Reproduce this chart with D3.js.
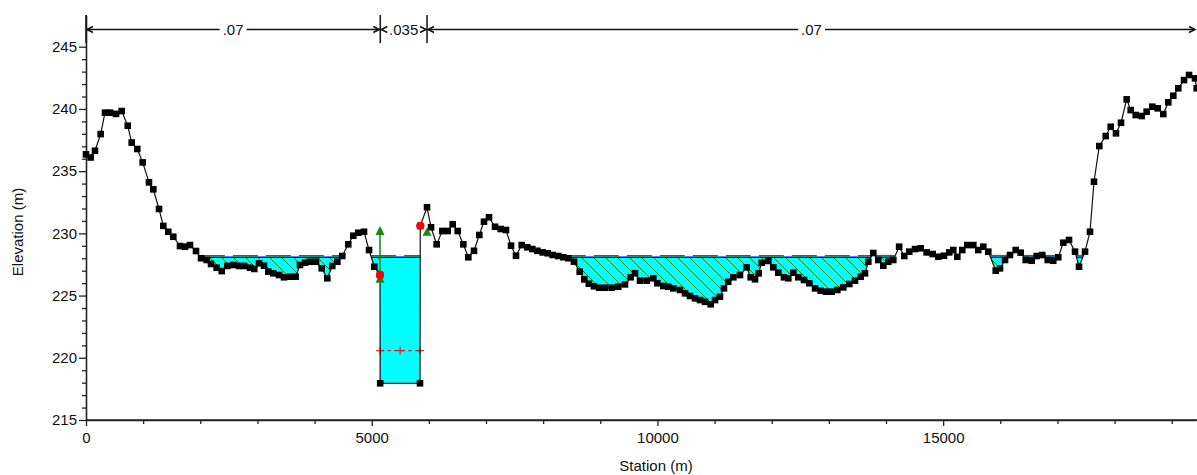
<!DOCTYPE html>
<html><head><meta charset="utf-8">
<script src="https://cdn.jsdelivr.net/npm/d3@7"></script>
<style>
body{margin:0;background:#fff}
svg{display:block}
text{font-family:Arial,"Liberation Sans",sans-serif;fill:#111}
</style>
</head><body>
<svg id="c" width="1197" height="475"></svg>
<script>
// ---------- data ----------
const stations = [0,82,157,257,332,420,525,624,730,800,898,992,1102,1178,1278,1353,1440,1528,1645,1733,1820,1925,2013,2112,2188,2287,2375,2473,2578,2678,2770,2870,2945,3028,3115,3190,3278,3378,3465,3570,3670,3745,3833,3932,4025,4125,4223,4310,4398,4485,4590,4678,4765,4865,4953,5045,5145,5148,5845,5850,5968,6038,6137,6235,6329,6417,6505,6603,6690,6790,6883,6965,7053,7158,7257,7350,7438,7525,7625,7723,7810,7898,7992,8080,8167,8265,8353,8440,8540,8640,8720,8800,8890,8980,9083,9200,9316,9433,9532,9608,9695,9812,9928,9998,10103,10190,10278,10395,10483,10570,10658,10745,10833,10932,11008,11095,11165,11240,11328,11445,11562,11632,11708,11772,11825,11940,12028,12115,12215,12290,12378,12465,12565,12658,12758,12857,12950,13050,13148,13253,13358,13458,13557,13633,13690,13778,13865,13953,14040,14128,14230,14320,14408,14508,14607,14712,14817,14915,15015,15108,15178,15248,15335,15423,15528,15615,15703,15790,15920,15995,16083,16170,16270,16357,16445,16550,16637,16735,16830,16927,17015,17103,17203,17308,17378,17483,17570,17640,17733,17845,17932,18025,18113,18212,18282,18370,18475,18562,18660,18755,18853,18940,19028,19115,19215,19303,19408,19437];
const elevations = [236.35,236.1,236.64,237.98,239.7,239.7,239.6,239.83,238.65,237.3,236.78,235.7,234.1,233.54,231.96,230.6,230.13,229.73,228.98,228.93,229.06,228.58,228.0,227.86,227.54,227.24,226.97,227.38,227.46,227.38,227.38,227.24,227.14,227.59,227.4,226.92,226.79,226.65,226.47,226.52,226.52,227.46,227.64,227.72,227.72,227.19,226.39,227.38,227.72,228.18,229.12,229.81,230.05,230.13,228.66,227.32,226.65,217.95,217.95,230.6,232.1,230.49,229.12,230.19,230.19,230.73,230.19,229.12,228.08,228.6,229.87,230.94,231.29,230.53,230.35,230.27,229.01,228.2,229.06,228.88,228.74,228.6,228.47,228.4,228.26,228.18,228.08,228.0,227.72,226.92,226.3,225.95,225.75,225.63,225.63,225.63,225.71,225.9,226.47,226.79,226.2,226.2,226.39,225.99,225.77,225.71,225.58,225.45,225.18,224.97,224.78,224.64,224.5,224.3,224.64,224.91,225.58,226.11,226.47,226.65,227.27,226.47,226.31,226.79,227.64,227.78,227.27,226.84,226.47,226.39,226.84,226.47,226.25,225.99,225.58,225.39,225.31,225.31,225.45,225.66,225.93,226.2,226.52,226.79,227.72,228.42,227.86,227.4,227.72,227.86,228.93,228.18,228.53,228.74,228.8,228.47,228.34,228.12,228.2,228.47,228.66,228.12,228.66,229.06,229.06,228.66,228.93,228.53,227.0,227.19,227.86,228.26,228.66,228.45,227.86,227.8,228.18,228.26,227.86,227.8,228.08,229.25,229.47,228.53,227.32,228.53,230.13,234.15,237.02,237.82,238.57,238.04,238.89,240.77,239.91,239.51,239.43,239.78,240.18,240.05,239.59,240.53,241.06,241.66,242.32,242.73,242.46,241.66];
const wsElev = 228.13;
const egElev = 228.17;
const critElev = 220.57;
const bankStations = [5145, 5850];
const bankElevs = [226.65, 230.6];
const ineffStations = [5145, 5968];
const ineffElevs = [230.6, 230.5];
const nBreaks = [0, 5150, 5968, 19425];
const nValues = [".07", ".035", ".07"];
const xTicks = [0, 5000, 10000, 15000];
const xMinorTicks = d3.range(0, 19001, 1000);
const yTicks = [215, 220, 225, 230, 235, 240, 245];
const yMinorTicks = d3.range(215, 246, 1);
const xTitle = "Station (m)";
const yTitle = "Elevation (m)";

// ---------- scales ----------
const svg = d3.select("#c");
const x = d3.scaleLinear().domain([0, 19425]).range([86, 1196]);
const y = d3.scaleLinear().domain([215, 247.55]).range([420, 15]);

const ground = stations.map((s, i) => ({s, e: elevations[i]}));

// wetted pools
const pools = [];
let cur = null;
for (let i = 0; i < ground.length; i++) {
  const p = ground[i];
  if (p.e < wsElev) {
    if (!cur) {
      if (i > 0) {
        const q = ground[i-1];
        const t = (wsElev - q.e) / (p.e - q.e);
        cur = [{s: q.s + t*(p.s - q.s), e: wsElev}];
      } else cur = [{s: p.s, e: wsElev}];
    }
    cur.push(p);
  } else if (cur) {
    const q = ground[i-1];
    const t = (wsElev - q.e) / (p.e - q.e);
    cur.push({s: q.s + t*(p.s - q.s), e: wsElev});
    pools.push(cur); cur = null;
  }
}

const defs = svg.append("defs");
const pat = defs.append("pattern").attr("id","hatch").attr("patternUnits","userSpaceOnUse")
  .attr("width",12).attr("height",12);
pat.append("rect").attr("width",12).attr("height",12).attr("fill","#00ffff");
pat.append("path").attr("d","M-1,-1L13,13M-1,11L1,13M11,-1L13,1")
  .attr("stroke","#118a11").attr("stroke-width",1).attr("fill","none");
defs.append("clipPath").attr("id","chan").append("rect")
  .attr("x", x(bankStations[0])).attr("y",0)
  .attr("width", x(bankStations[1]) - x(bankStations[0])).attr("height",475);

const line = d3.line().x(d => x(d.s)).y(d => y(d.e));

// water fills
svg.append("g").selectAll("path").data(pools).join("path")
  .attr("d", d => line(d) + "Z").attr("fill","url(#hatch)");
svg.append("g").attr("clip-path","url(#chan)").selectAll("path").data(pools).join("path")
  .attr("d", d => line(d) + "Z").attr("fill","#00ffff");

// WS and EG lines
svg.append("g").selectAll("line").data(pools).join("line")
  .attr("x1", d => x(d[0].s)).attr("x2", d => x(d[d.length-1].s))
  .attr("y1", y(wsElev)+0.5).attr("y2", y(wsElev)+0.5)
  .attr("stroke","#0000ff").attr("stroke-width",1.5);
svg.append("g").selectAll("line").data(pools).join("line")
  .attr("x1", d => x(d[0].s)).attr("x2", d => x(d[d.length-1].s))
  .attr("y1", y(egElev)-0.5).attr("y2", y(egElev)-0.5)
  .attr("stroke","#0a8a0a").attr("stroke-width",1.5).attr("stroke-dasharray","25,8");

// critical depth
const critX = [5148, 5497, 5845];
svg.append("line").attr("x1", x(critX[0])).attr("x2", x(critX[2]))
  .attr("y1", y(critElev)).attr("y2", y(critElev))
  .attr("stroke","#ff0000").attr("stroke-width",1).attr("stroke-dasharray","4,3");
svg.append("g").selectAll("path").data(critX).join("path")
  .attr("d", d => `M${x(d)-4},${y(critElev)}h8M${x(d)},${y(critElev)-4}v8`)
  .attr("stroke","#ff0000").attr("stroke-width",1);

// axes
const yAxis = svg.append("g").attr("transform","translate(86,0)")
  .call(d3.axisLeft(y).tickValues(yTicks).tickSize(7).tickSizeOuter(0).tickPadding(2));
svg.append("g").attr("transform","translate(86,0)")
  .call(d3.axisLeft(y).tickValues(yMinorTicks.filter(v => v % 5 !== 0)).tickSize(4).tickSizeOuter(0).tickFormat(""))
  .select(".domain").remove();
const xAxis = svg.append("g").attr("transform","translate(0,420)")
  .call(d3.axisBottom(x).tickValues(xTicks).tickSize(6).tickSizeOuter(0).tickPadding(6).tickFormat(d3.format("d")));
svg.append("g").attr("transform","translate(0,420)")
  .call(d3.axisBottom(x).tickValues(xMinorTicks.filter(v => v % 5000 !== 0)).tickSize(4).tickSizeOuter(0).tickFormat(""))
  .select(".domain").remove();
svg.selectAll(".domain").attr("stroke","#222").attr("stroke-width",1.6);
svg.selectAll(".tick line").attr("stroke","#222").attr("stroke-width",1.3);
svg.selectAll(".tick text").attr("font-size",15).attr("fill","#111")
  .attr("font-family","Arial, 'Liberation Sans', sans-serif");
// extend x domain to right edge
svg.append("line").attr("x1",86).attr("x2",1197).attr("y1",420).attr("y2",420)
  .attr("stroke","#222").attr("stroke-width",1.6);

svg.append("text").attr("x",656).attr("y",471).attr("text-anchor","middle")
  .attr("font-size",15).text(xTitle);
svg.append("text").attr("transform","translate(23,232) rotate(-90)").attr("text-anchor","middle")
  .attr("font-size",15).text(yTitle);

// manning's n bar
const nY = 29.5;
const nb = svg.append("g");
nBreaks.slice(0,3).forEach(b => {
  nb.append("line").attr("x1", x(b)).attr("x2", x(b)).attr("y1",15).attr("y2",43)
    .attr("stroke","#111").attr("stroke-width",1.5);
});
nValues.forEach((v, i) => {
  const a = x(nBreaks[i]) + 1, b = Math.min(x(nBreaks[i+1]), 1196) - 1;
  const mid = (a + b) / 2;
  const t = nb.append("text").attr("x", mid).attr("y", nY + 5.3).attr("text-anchor","middle")
    .attr("font-size",15).text(v);
  const w = t.node().getComputedTextLength();
  const l1 = mid - w/2 - 3, l2 = mid + w/2 + 3;
  if (l1 > a + 5) nb.append("line").attr("x1",a).attr("x2",l1).attr("y1",nY).attr("y2",nY).attr("stroke","#111").attr("stroke-width",1.3);
  if (l2 < b - 5) nb.append("line").attr("x1",l2).attr("x2",b).attr("y1",nY).attr("y2",nY).attr("stroke","#111").attr("stroke-width",1.3);
  nb.append("path").attr("d",`M${a+6},${nY-3}L${a},${nY}L${a+6},${nY+3}`).attr("fill","none").attr("stroke","#111").attr("stroke-width",1.5);
  nb.append("path").attr("d",`M${b-6},${nY-3}L${b},${nY}L${b-6},${nY+3}`).attr("fill","none").attr("stroke","#111").attr("stroke-width",1.5);
});

// ground
svg.append("path").datum(ground).attr("d", line).attr("fill","none")
  .attr("stroke","#111").attr("stroke-width",1.2);
svg.append("g").selectAll("rect").data(ground).join("rect")
  .attr("x", d => x(d.s) - 3.3).attr("y", d => y(d.e) - 3.3)
  .attr("width",6.6).attr("height",6.6).attr("fill","#000");

// ineffective / levee markers
const gx0 = x(ineffStations[0]);
svg.append("line").attr("x1",gx0).attr("x2",gx0).attr("y1",y(226.45)).attr("y2",y(ineffElevs[0])+6)
  .attr("stroke","#118a11").attr("stroke-width",1.5);
svg.append("path").attr("d",`M${gx0},${y(ineffElevs[0])}l4.5,9h-9Z`).attr("fill","#118a11");
svg.append("path").attr("d",`M${gx0},${y(226.75)}l4.5,9h-9Z`).attr("fill","#118a11");
const gx1 = x(ineffStations[1]);
svg.append("path").attr("d",`M${gx1},${y(ineffElevs[1])}l4.5,8.5h-9Z`).attr("fill","#118a11");

// bank stations
svg.append("g").selectAll("circle").data(bankStations).join("circle")
  .attr("cx", d => x(d)).attr("cy", (d, i) => y(bankElevs[i])).attr("r",4.2).attr("fill","#ff0000");
</script>
</body></html>
